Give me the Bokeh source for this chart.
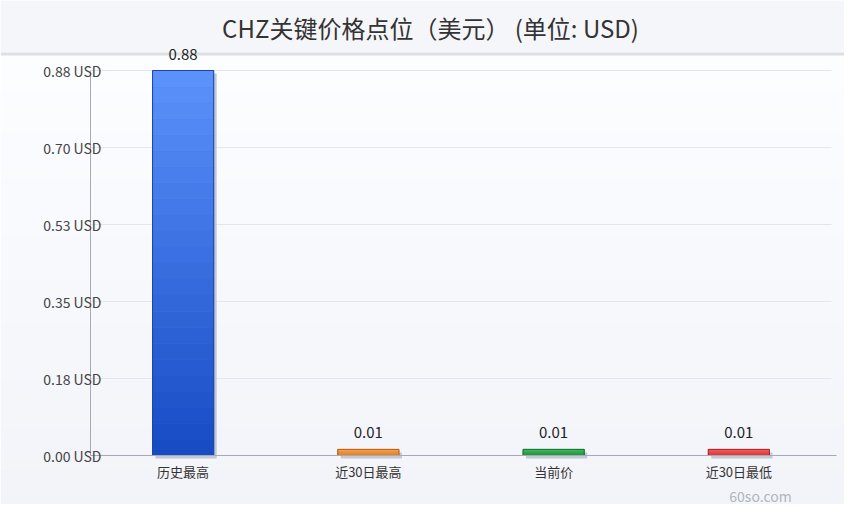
from bokeh.plotting import figure
from bokeh.models import (Range1d, FixedTicker, ColumnDataSource, LabelSet, Label,
                          BoxAnnotation)
from bokeh.core.properties import value
from bokeh.embed import file_html
from bokeh.resources import INLINE

# ---------------- data ----------------
categories = ["历史最高", "近30日最高", "当前价", "近30日最低"]
values = [0.88, 0.014, 0.014, 0.014]
value_labels = ["0.88", "0.01", "0.01", "0.01"]
y_ticks = [0.0, 0.176, 0.352, 0.528, 0.704, 0.88]
y_tick_labels = ["0.00 USD", "0.18 USD", "0.35 USD", "0.53 USD", "0.70 USD", "0.88 USD"]
title_text = "CHZ关键价格点位（美元） (单位: USD)"
watermark = "60so.com"

# ---------------- layout / style ----------------
FONT = "Noto Sans CJK SC"
top_colors = ["#5b93fb", "#f6a24e", "#3dba5c", "#f25d5d"]
bottom_colors = ["#174ac4", "#e2791f", "#1f8e3a", "#d93131"]
edge_colors = ["#1e44a8", "#b85e18", "#1a7030", "#a82828"]

W, H = 844, 504
axis_x_px, axis_right_px, grid_right_px = 90, 836, 831
zero_y_px, top_y_px = 455, 70
n_cat = len(categories)
ymax = y_ticks[-1]
xppu = (grid_right_px - axis_x_px) / n_cat          # pixels per category
yppu = (zero_y_px - top_y_px) / ymax                 # pixels per USD

x_range = Range1d(-axis_x_px / xppu, (W - axis_x_px) / xppu)
y_range = Range1d(-(H - zero_y_px) / yppu, ymax + top_y_px / yppu)

bar_w = 0.33
sh_dx = 3 / xppu
sh_dy = 3 / yppu

p = figure(width=W, height=H, output_backend="svg", toolbar_location=None,
           x_range=x_range, y_range=y_range, min_border=0)
p.outline_line_color = None
p.background_fill_color = None
p.border_fill_color = "#f7f8fb"


def hexmix(c1, c2, t):
    a = [int(c1[i:i + 2], 16) for i in (1, 3, 5)]
    b = [int(c2[i:i + 2], 16) for i in (1, 3, 5)]
    return "#%02x%02x%02x" % tuple(round(a[k] + (b[k] - a[k]) * t) for k in range(3))


def canvas_box(top, bottom, color):
    return BoxAnnotation(left=0, right=W, top=top, bottom=bottom,
                         left_units="canvas", right_units="canvas",
                         top_units="canvas", bottom_units="canvas",
                         fill_color=color, fill_alpha=1, line_color=None, level="image")


# page background gradient, header band and separator
NB = 40
band_top = 55
band_h = (H - band_top) / NB
for i in range(NB):
    p.add_layout(canvas_box(band_top + i * band_h, band_top + (i + 1) * band_h + 1,
                            hexmix("#fcfdff", "#f2f4f9", i / (NB - 1))))
p.add_layout(canvas_box(0, 52, "#f5f6f9"))
p.add_layout(canvas_box(52, 55, "#dcdfe6"))

# grid lines at the y ticks, spanning the categories only
p.xgrid.visible = False
p.ygrid.visible = False
p.segment(x0=[0] * len(y_ticks), x1=[n_cat] * len(y_ticks), y0=y_ticks, y1=y_ticks,
          line_color="#e3e6ec", line_width=1)

# y axis
p.yaxis.fixed_location = 0
p.yaxis.ticker = FixedTicker(ticks=y_ticks)
p.yaxis.major_label_overrides = {t: l for t, l in zip(y_ticks, y_tick_labels)}
p.yaxis.bounds = (0, ymax)
p.yaxis.axis_line_color = "#a4aab6"
p.yaxis.major_tick_line_color = None
p.yaxis.minor_tick_line_color = None
p.yaxis.major_tick_out = 0
p.yaxis.major_tick_in = 0
p.yaxis.major_label_standoff = -11
p.yaxis.major_label_text_font = FONT
p.yaxis.major_label_text_font_size = "14px"
p.yaxis.major_label_text_color = "#444444"

# x axis
x_centers = [i + 0.5 for i in range(n_cat)]
p.xaxis.fixed_location = 0
p.xaxis.ticker = FixedTicker(ticks=x_centers)
p.xaxis.major_label_overrides = {c: n for c, n in zip(x_centers, categories)}
p.xaxis.bounds = (0, (axis_right_px - axis_x_px) / xppu)
p.xaxis.axis_line_color = "#a4aab6"
p.xaxis.major_tick_line_color = None
p.xaxis.minor_tick_line_color = None
p.xaxis.major_tick_out = 0
p.xaxis.major_tick_in = 0
p.xaxis.major_label_standoff = 6
p.xaxis.major_label_text_font = FONT
p.xaxis.major_label_text_font_size = "13px"
p.xaxis.major_label_text_color = "#333333"

# shadows
p.quad(left=[x - bar_w / 2 + sh_dx for x in x_centers],
       right=[x + bar_w / 2 + sh_dx for x in x_centers],
       bottom=[-sh_dy] * n_cat, top=[v - sh_dy for v in values],
       fill_color="#b9c0cd", fill_alpha=0.85, line_color=None)

# gradient bars
NG = 24
for i, v in enumerate(values):
    xl, xr = x_centers[i] - bar_w / 2, x_centers[i] + bar_w / 2
    bots = [v * k / NG for k in range(NG)]
    tops = [v * (k + 1) / NG for k in range(NG)]
    cols = [hexmix(bottom_colors[i], top_colors[i], (k + 0.5) / NG) for k in range(NG)]
    p.quad(left=[xl] * NG, right=[xr] * NG, bottom=bots, top=tops,
           fill_color=cols, line_color=cols, line_width=0.8)
    p.quad(left=[xl], right=[xr], bottom=[0], top=[v], fill_color=None,
           line_color=edge_colors[i], line_width=1)

src = ColumnDataSource(dict(x=x_centers, y=values, t=value_labels))
p.add_layout(LabelSet(x="x", y="y", text="t", source=src, text_align="center",
                      text_baseline="bottom", y_offset=11, text_font=value(FONT),
                      text_font_size=value("15px"), text_color=value("#222222"),
                      level="overlay"))

p.add_layout(Label(x=430, y=27, x_units="canvas", y_units="canvas",
                   text=title_text, text_align="center", text_baseline="middle",
                   text_font=FONT, text_font_size="24px", text_color="#333333",
                   level="overlay"))
p.add_layout(Label(x=760, y=495, x_units="canvas", y_units="canvas",
                   text=watermark, text_align="center", text_baseline="middle",
                   text_font=FONT, text_font_size="14px", text_color="#b0b5be",
                   level="overlay"))

open("out.html", "w").write(file_html(p, INLINE))
